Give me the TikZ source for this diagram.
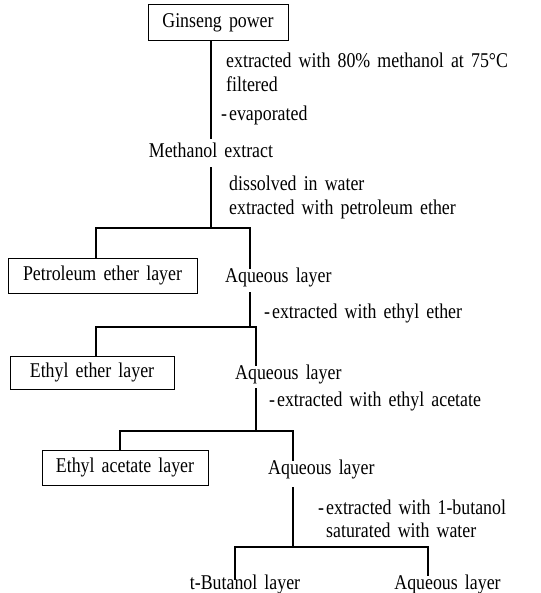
\documentclass[tikz,border=0pt]{standalone}
\usepackage{fontspec}
\setmainfont{Liberation Serif}[FakeStretch=0.85,WordSpace=1.6]
\begin{document}
\begin{tikzpicture}[x=1pt,y=-1pt,
  every node/.style={font=\fontsize{21}{24}\selectfont, inner sep=0pt, text height=14pt, text depth=4.5pt},
  layerbox/.style={draw, line width=1pt},
  lbl/.style={anchor=west},
  conn/.style={line width=1.2pt}]
\useasboundingbox (0,0) rectangle (540,593);
% nodes
\node[layerbox, minimum width=140pt, minimum height=36pt] (gin) at (218,23) {Ginseng power};
\node[inner ysep=5pt] (meth) at (211,153) {Methanol extract};
\node[lbl] (l1a) at (226,63) {extracted with 80\% methanol at 75°C};
\node[lbl] (l1b) at (226,87) {filtered};
\node[lbl] (l1c) at (221,116) {-\kern2pt evaporated};
\node[lbl] (l2a) at (229,186) {dissolved in water};
\node[lbl] (l2b) at (229,210) {extracted with petroleum ether};
\node[layerbox, minimum width=189pt, minimum height=35pt] (pet) at (102.5,275.5) {Petroleum ether layer};
\node[lbl] (aq1) at (225,278) {Aqueous layer};
\node[lbl] (l3) at (264,314) {-\kern2pt extracted with ethyl ether};
\node[layerbox, minimum width=164pt, minimum height=33pt] (eth) at (92,372.5) {Ethyl ether layer};
\node[lbl] (aq2) at (235,375) {Aqueous layer};
\node[lbl] (l4) at (269,402) {-\kern2pt extracted with ethyl acetate};
\node[layerbox, minimum width=166pt, minimum height=35pt] (acet) at (125,467.5) {Ethyl acetate layer};
\node[lbl] (aq3) at (268,470) {Aqueous layer};
\node[lbl] (l5a) at (318,510) {-\kern2pt extracted with 1-butanol};
\node[lbl] (l5b) at (326,533) {saturated with water};
\node (tbut) at (245,585) {t-Butanol layer};
\node (aq4) at (447.5,585) {Aqueous layer};
% junctions
\coordinate (j1) at (211,228);
\coordinate (j1l) at (96,228);
\coordinate (j1r) at (250,228);
\coordinate (j2) at (250,327);
\coordinate (j2l) at (96,327);
\coordinate (j2r) at (256,327);
\coordinate (j3) at (256,431);
\coordinate (j3l) at (120,431);
\coordinate (j3r) at (293,431);
\coordinate (j4) at (293,547);
\coordinate (j4l) at (235,547);
\coordinate (j4r) at (428,547);
% connectors
\draw[conn] (gin.south -| meth) -- (meth.north);
\draw[conn] (meth.south) -- (j1);
\draw[conn] (pet.north -| j1l) -- (j1l) -- (j1r) -- (aq1.north -| j1r);
\draw[conn, shorten <=5pt] (aq1.south -| j2) -- (j2);
\draw[conn] (eth.north -| j2l) -- (j2l) -- (j2r) -- (aq2.north -| j2r);
\draw[conn, shorten <=4pt] (aq2.south -| j3) -- (j3);
\draw[conn] (acet.north -| j3l) -- (j3l) -- (j3r) -- (aq3.north -| j3r);
\draw[conn, shorten <=8pt] (aq3.south -| j4) -- (j4);
\draw[conn] (tbut.north -| j4l) ++(0,4) -- (j4l) -- (j4r) -- (aq4.north -| j4r);
\end{tikzpicture}
\end{document}
